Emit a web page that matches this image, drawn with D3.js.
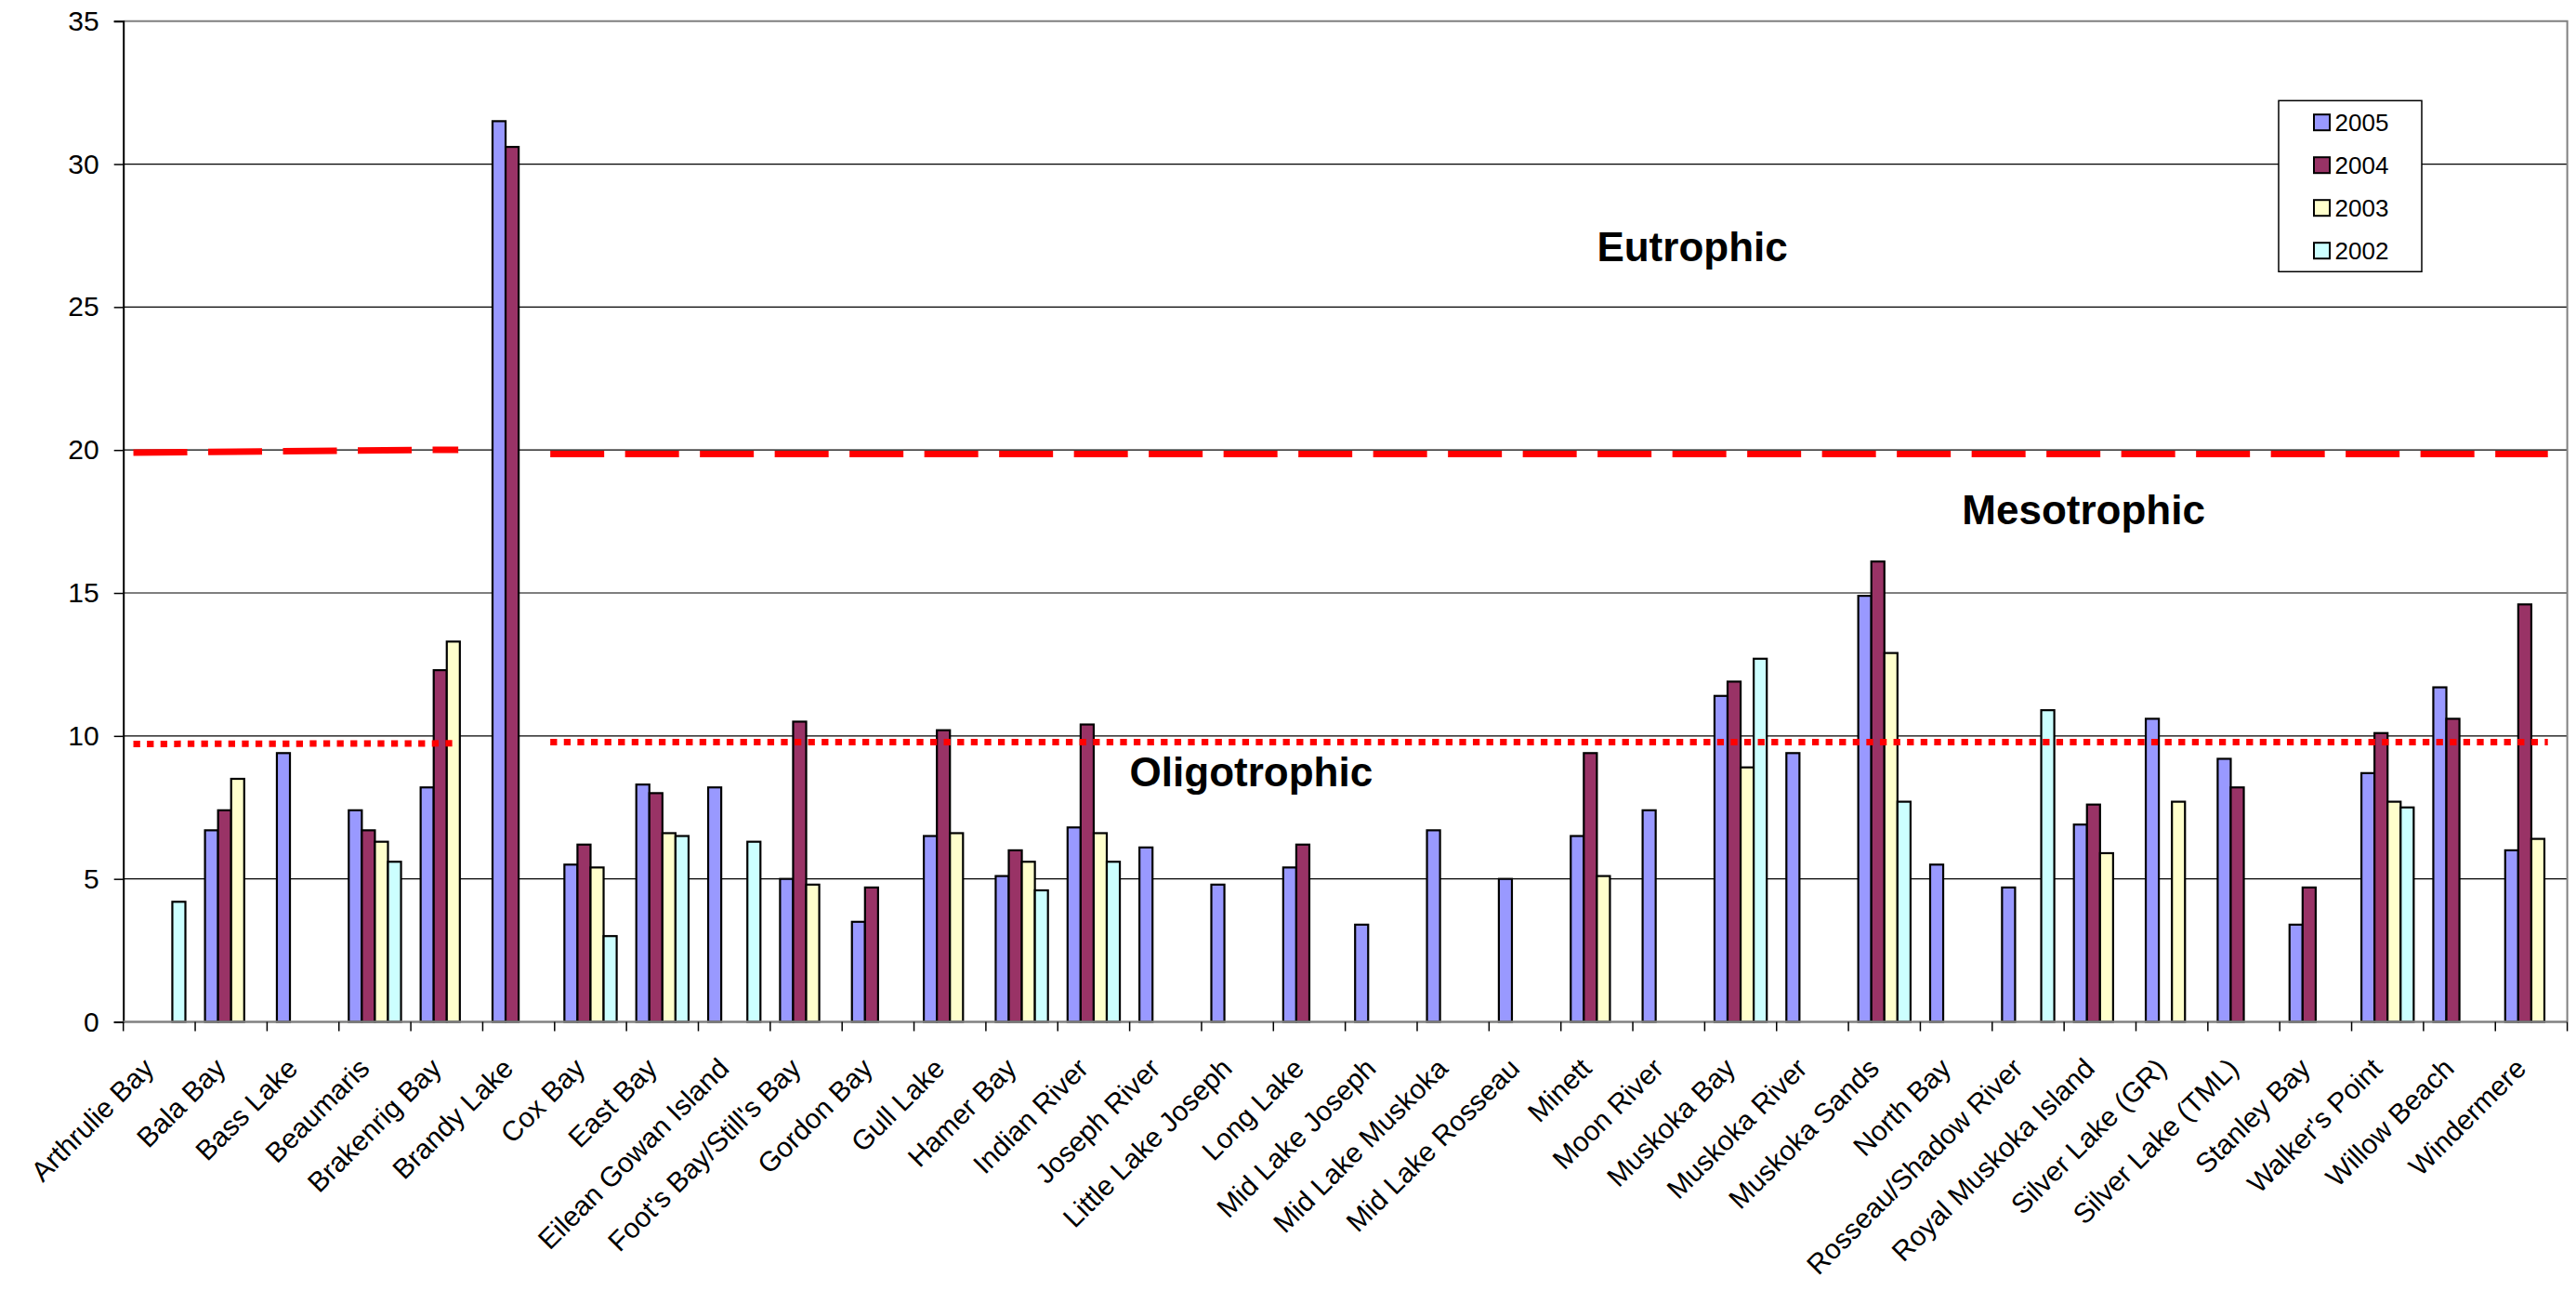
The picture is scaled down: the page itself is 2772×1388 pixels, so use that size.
<!DOCTYPE html>
<html>
<head>
<meta charset="utf-8">
<script src="https://cdn.jsdelivr.net/npm/d3@7"></script>
<style>
  html, body { margin: 0; padding: 0; background: #fff; }
  svg { display: block; }
  text { font-family: Arial, "Liberation Sans", sans-serif; }
</style>
</head>
<body>
<script>
// Sampling sites along the lakes (x categories)
const categories = [
  "Arthrulie Bay", "Bala Bay", "Bass Lake", "Beaumaris", "Brakenrig Bay",
  "Brandy Lake", "Cox Bay", "East Bay", "Eilean Gowan Island",
  "Foot's Bay/Still's Bay", "Gordon Bay", "Gull Lake", "Hamer Bay",
  "Indian River", "Joseph River", "Little Lake Joseph", "Long Lake",
  "Mid Lake Joseph", "Mid Lake Muskoka", "Mid Lake Rosseau", "Minett",
  "Moon River", "Muskoka Bay", "Muskoka River", "Muskoka Sands", "North Bay",
  "Rosseau/Shadow River", "Royal Muskoka Island", "Silver Lake (GR)",
  "Silver Lake (TML)", "Stanley Bay", "Walker's Point", "Willow Beach",
  "Windermere"
];

// Series, one value per site (null = not sampled that year)
const years = ["2005", "2004", "2003", "2002"];

const values2005 = [
  null, 6.7, 9.4, 7.4, 8.2, 31.5, 5.5, 8.3, 8.2, 5.0, 3.5, 6.5, 5.1, 6.8, 6.1,
  4.8, 5.4, 3.4, 6.7, 5.0, 6.5, 7.4, 11.4, 9.4, 14.9, 5.5, 4.7, 6.9, 10.6,
  9.2, 3.4, 8.7, 11.7, 6.0
];
const values2004 = [
  null, 7.4, null, 6.7, 12.3, 30.6, 6.2, 8.0, null, 10.5, 4.7, 10.2, 6.0, 10.4,
  null, null, 6.2, null, null, null, 9.4, null, 11.9, null, 16.1, null, null,
  7.6, null, 8.2, 4.7, 10.1, 10.6, 14.6
];
const values2003 = [
  null, 8.5, null, 6.3, 13.3, null, 5.4, 6.6, null, 4.8, null, 6.6, 5.6, 6.6,
  null, null, null, null, null, null, 5.1, null, 8.9, null, 12.9, null, null,
  5.9, 7.7, null, null, 7.7, null, 6.4
];
const values2002 = [
  4.2, null, null, 5.6, null, null, 3.0, 6.5, 6.3, null, null, null, 4.6, 5.6,
  null, null, null, null, null, null, null, null, 12.7, null, 7.7, null, 10.9,
  null, null, null, null, 7.5, null, null
];
const seriesValues = [values2005, values2004, values2003, values2002];
const seriesColors = ["#9999ff", "#993366", "#ffffcc", "#ccffff"];

const yTicks = [0, 5, 10, 15, 20, 25, 30, 35];

// Trophic boundary lines, in category units along x and values along y
const eutrophicSegments = [
  { from: 0.14, to: 4.66, start: 19.91, end: 20.01 },
  { from: 5.94, to: 33.73, start: 19.86, end: 19.86 }
];
const oligotrophicSegments = [
  { from: 0.14, to: 4.58, start: 9.72, end: 9.74 },
  { from: 5.94, to: 33.73, start: 9.78, end: 9.78 }
];

// Zone labels: x in category units, y in data units (text baseline)
const zoneLabels = [
  { text: "Eutrophic", at: 20.5, value: 26.6 },
  { text: "Mesotrophic", at: 25.58, value: 17.4 },
  { text: "Oligotrophic", at: 14.0, value: 8.25 }
];

const W = 2772, H = 1388;
const plot = { left: 132.7, right: 2762.6, top: 22.7, bottom: 1099.5 };

const svg = d3.select("body").append("svg")
  .attr("width", W).attr("height", H)
  .attr("viewBox", `0 0 ${W} ${H}`);

svg.append("rect").attr("width", W).attr("height", H).attr("fill", "#fff");

const x = d3.scaleBand().domain(categories)
  .range([plot.left, plot.right]).paddingInner(0).paddingOuter(0);
const xs = d3.scaleBand().domain(years)
  .range([0, x.bandwidth()]).paddingInner(0).paddingOuter(0.75);
const y = d3.scaleLinear().domain([0, 35]).range([plot.bottom, plot.top]);
// continuous position in category units
const xc = d3.scaleLinear().domain([0, categories.length])
  .range([plot.left, plot.right]);

// Gridlines
svg.append("g").selectAll("line")
  .data(yTicks.filter(t => t > 0 && t < 35))
  .join("line")
  .attr("x1", plot.left).attr("x2", plot.right)
  .attr("y1", d => y(d)).attr("y2", d => y(d))
  .attr("stroke", "#000").attr("stroke-width", 1.2);

// Plot frame (top and right)
svg.append("path")
  .attr("d", `M${plot.left},${plot.top}H${plot.right}V${plot.bottom}`)
  .attr("fill", "none").attr("stroke", "#808080").attr("stroke-width", 2);

// Bars
const groups = svg.append("g").selectAll("g")
  .data(categories)
  .join("g")
  .attr("transform", d => `translate(${x(d)},0)`);

groups.selectAll("rect")
  .data((d, i) => years.map((yr, s) => ({ yr, s, v: seriesValues[s][i] }))
    .filter(e => e.v != null))
  .join("rect")
  .attr("x", e => xs(e.yr))
  .attr("width", xs.bandwidth())
  .attr("y", e => y(e.v))
  .attr("height", e => y(0) - y(e.v))
  .attr("fill", e => seriesColors[e.s])
  .attr("stroke", "#000")
  .attr("stroke-width", 2.2);

// Boundary lines
function drawSegments(segs, dash, width) {
  svg.append("g").selectAll("line")
    .data(segs)
    .join("line")
    .attr("x1", d => xc(d.from)).attr("x2", d => xc(d.to))
    .attr("y1", d => y(d.start)).attr("y2", d => y(d.end))
    .attr("stroke", "#ff0000")
    .attr("stroke-width", width)
    .attr("stroke-dasharray", dash);
}
drawSegments(eutrophicSegments, "58,22.5", 7);
drawSegments(oligotrophicSegments, "7.3,7.3", 7);

// Zone labels
svg.append("g").selectAll("text")
  .data(zoneLabels)
  .join("text")
  .attr("x", d => xc(d.at))
  .attr("y", d => y(d.value))
  .attr("font-size", 44)
  .attr("font-weight", "bold")
  .attr("fill", "#000")
  .text(d => d.text);

// Y axis
const yAxis = svg.append("g")
  .attr("transform", `translate(${plot.left},0)`)
  .call(d3.axisLeft(y).tickValues(yTicks).tickSize(10).tickPadding(16)
    .tickFormat(d3.format("d")));
yAxis.select(".domain").attr("stroke", "#000").attr("stroke-width", 2);
yAxis.selectAll(".tick line").attr("stroke", "#000").attr("stroke-width", 1.5);
yAxis.selectAll(".tick text")
  .attr("font-size", 30).attr("font-family", "Arial, 'Liberation Sans', sans-serif")
  .attr("fill", "#000");

// X axis: baseline, tick marks between categories, rotated labels
const xAxis = svg.append("g");
xAxis.append("line")
  .attr("x1", plot.left).attr("x2", plot.right)
  .attr("y1", y(0)).attr("y2", y(0))
  .attr("stroke", "#808080").attr("stroke-width", 2.5);
xAxis.selectAll(".tickmark")
  .data(d3.range(categories.length + 1))
  .join("line")
  .attr("class", "tickmark")
  .attr("x1", i => xc(i)).attr("x2", i => xc(i))
  .attr("y1", y(0)).attr("y2", y(0) + 10)
  .attr("stroke", "#000").attr("stroke-width", 1.5);
xAxis.selectAll("text")
  .data(categories)
  .join("text")
  .attr("transform", d => `translate(${x(d) + x.bandwidth() / 2 - 4},${y(0) + 52}) rotate(-45)`)
  .attr("text-anchor", "end")
  .attr("font-size", 30)
  .attr("fill", "#000")
  .text(d => d);

// Legend
const legend = svg.append("g").attr("transform", "translate(2452,108.3)");
legend.append("rect")
  .attr("width", 154).attr("height", 184)
  .attr("fill", "#fff").attr("stroke", "#000").attr("stroke-width", 1.5);
const items = legend.selectAll("g.item")
  .data(years)
  .join("g")
  .attr("class", "item")
  .attr("transform", (d, i) => `translate(0,${23.4 + i * 46})`);
items.append("rect")
  .attr("x", 38).attr("y", -8.5).attr("width", 17).attr("height", 17)
  .attr("fill", (d, i) => seriesColors[i])
  .attr("stroke", "#000").attr("stroke-width", 2);
items.append("text")
  .attr("x", 60.5).attr("y", 9.5)
  .attr("font-size", 26)
  .attr("fill", "#000")
  .text(d => d);
</script>
</body>
</html>
